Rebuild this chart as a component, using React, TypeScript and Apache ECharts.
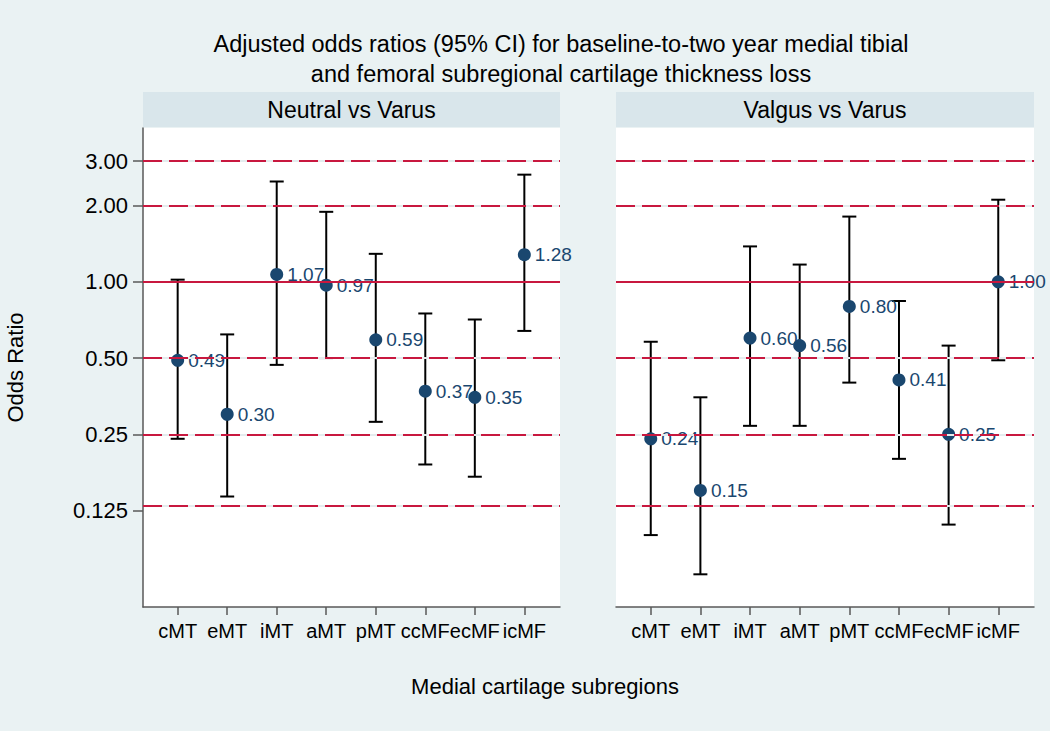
import React, { useEffect, useRef } from "react";
import * as echarts from "echarts";

const categories = ["cMT", "eMT", "iMT", "aMT", "pMT", "ccMF", "ecMF", "icMF"];
const panelTitles = ["Neutral vs Varus", "Valgus vs Varus"];

const neutralOR = [0.49, 0.30, 1.07, 0.97, 0.59, 0.37, 0.35, 1.28];
const neutralLower = [0.24, 0.142, 0.47, 0.50, 0.28, 0.19, 0.17, 0.64];
const neutralUpper = [1.02, 0.62, 2.49, 1.89, 1.29, 0.75, 0.71, 2.65];

const valgusOR = [0.24, 0.15, 0.60, 0.56, 0.80, 0.41, 0.25, 1.00];
const valgusLower = [0.10, 0.070, 0.27, 0.27, 0.40, 0.20, 0.11, 0.49];
const valgusUpper = [0.58, 0.35, 1.38, 1.17, 1.81, 0.84, 0.56, 2.11];

const yTickValues = [0.125, 0.25, 0.5, 1, 2, 3];
const yTickLabels = ["0.125", "0.25", "0.50", "1.00", "2.00", "3.00"];
const dashedRefLines = [0.125, 0.25, 0.5, 2, 3];
const solidRefLine = 1;

const FONT = "Liberation Sans, Arial, Helvetica, sans-serif";
const NAVY = "#1a476f";
const RED = "#c8183f";
const BG = "#eaf2f3";
const HEADER = "#d9e6eb";
const AXIS = "#595959";

const grids = [
  { left: 143, top: 128, width: 417, height: 479 },
  { left: 616, top: 128, width: 418, height: 479 },
];

export default function App() {
  const ref = useRef<HTMLDivElement>(null);
  useEffect(() => {
    if (!ref.current) return;
    const chart = echarts.init(ref.current, null, { renderer: "svg" });
    const xPositions = categories.map((_, i) => i + 1);

    const panels = [
      { or: neutralOR, lo: neutralLower, hi: neutralUpper },
      { or: valgusOR, lo: valgusLower, hi: valgusUpper },
    ];

    const series: any[] = [];
    panels.forEach((p, k) => {
      series.push({
        type: "line",
        xAxisIndex: k,
        yAxisIndex: k,
        data: [],
        silent: true,
        z: 1,
        markLine: {
          silent: true,
          symbol: "none",
          label: { show: false },
          lineStyle: { color: "#e4ecee", type: "solid", width: 2 },
          data: dashedRefLines.map((v) => ({ yAxis: v })),
        },
      });
      series.push({
        type: "line",
        xAxisIndex: k,
        yAxisIndex: k,
        data: [],
        silent: true,
        z: 2,
        markLine: {
          silent: true,
          symbol: "none",
          label: { show: false },
          lineStyle: { color: RED, type: [19, 7], width: 2 },
          data: dashedRefLines.map((v) => ({ yAxis: v })),
        },
      });
      series.push({
        type: "line",
        xAxisIndex: k,
        yAxisIndex: k,
        data: [],
        silent: true,
        z: 2,
        markLine: {
          silent: true,
          symbol: "none",
          label: { show: false },
          lineStyle: { color: RED, type: "solid", width: 2 },
          data: [{ yAxis: solidRefLine }],
        },
      });
      series.push({
        type: "custom",
        xAxisIndex: k,
        yAxisIndex: k,
        z: 3,
        encode: { x: 0, y: [1, 2] },
        data: xPositions.map((x, i) => [x, p.lo[i], p.hi[i]]),
        renderItem: (params: any, api: any) => {
          const x = api.value(0);
          const a = api.coord([x, api.value(1)]);
          const b = api.coord([x, api.value(2)]);
          const w = 7;
          const style = { stroke: "#000", lineWidth: 2 };
          return {
            type: "group",
            children: [
              { type: "line", shape: { x1: a[0], y1: a[1], x2: b[0], y2: b[1] }, style },
              { type: "line", shape: { x1: a[0] - w, y1: a[1], x2: a[0] + w, y2: a[1] }, style },
              { type: "line", shape: { x1: b[0] - w, y1: b[1], x2: b[0] + w, y2: b[1] }, style },
            ],
          };
        },
      });
      series.push({
        type: "scatter",
        xAxisIndex: k,
        yAxisIndex: k,
        z: 4,
        symbol: "circle",
        symbolSize: 13,
        itemStyle: { color: NAVY, opacity: 1 },
        data: xPositions.map((x, i) => [x, p.or[i]]),
        label: {
          show: true,
          position: "right",
          distance: 4,
          color: NAVY,
          fontSize: 19,
          fontFamily: FONT,
          formatter: (d: any) => d.value[1].toFixed(2),
        },
      });
    });

    const xAxisBase = (k: number) => ({
      type: "value",
      gridIndex: k,
      min: 0.3,
      max: 8.72,
      splitLine: { show: false },
      axisLine: { show: true, onZero: false, lineStyle: { color: AXIS, width: 1.5 } },
      axisTick: { show: true, length: 8, lineStyle: { color: AXIS, width: 1.5 }, customValues: xPositions },
      axisLabel: {
        show: true,
        customValues: xPositions,
        color: "#000",
        fontSize: 20,
        fontFamily: FONT,
        margin: 14,
        formatter: (v: number) => categories[Math.round(v) - 1] ?? "",
      },
    });

    const yAxisBase = (k: number) => ({
      type: "log",
      logBase: 2,
      gridIndex: k,
      min: 0.052,
      max: 4.05,
      splitLine: { show: false },
      axisLine: { show: k === 0, lineStyle: { color: AXIS, width: 1.5 } },
      axisTick: { show: k === 0, length: 10, lineStyle: { color: AXIS, width: 1.5 }, customValues: yTickValues },
      axisLabel: {
        show: k === 0,
        customValues: yTickValues,
        color: "#000",
        fontSize: 22,
        fontFamily: FONT,
        margin: 15,
        formatter: (v: number) => {
          const idx = yTickValues.findIndex((t) => Math.abs(t - v) < 1e-6);
          return idx >= 0 ? yTickLabels[idx] : "";
        },
      },
      name: k === 0 ? "Odds Ratio" : "",
      nameLocation: "middle",
      nameGap: 117,
      nameTextStyle: { color: "#000", fontSize: 22, fontFamily: FONT },
    });

    const graphic: any[] = [];
    grids.forEach((g, k) => {
      graphic.push({
        type: "rect",
        shape: { x: g.left, y: 92, width: g.width, height: 35 },
        style: { fill: HEADER },
        silent: true,
      });
      graphic.push({
        type: "rect",
        shape: { x: g.left, y: g.top, width: g.width, height: g.height },
        style: { fill: "#ffffff" },
        silent: true,
        z: -10,
      });
      graphic.push({
        type: "text",
        x: g.left + g.width / 2,
        y: 110,
        style: {
          text: panelTitles[k],
          fill: "#000",
          fontSize: 23,
          fontFamily: FONT,
          align: "center",
          verticalAlign: "middle",
        },
      });
    });
    graphic.push({
      type: "text",
      x: 545,
      y: 686,
      style: {
        text: "Medial cartilage subregions",
        fill: "#000",
        fontSize: 22,
        fontFamily: FONT,
        align: "center",
        verticalAlign: "middle",
      },
    });

    chart.setOption({
      animation: false,
      backgroundColor: BG,
      title: {
        text: "Adjusted odds ratios (95% CI) for baseline-to-two year medial tibial\nand femoral subregional cartilage thickness loss",
        left: 556,
        top: 24,
        textAlign: "center",
        textStyle: { color: "#000", fontSize: 23.5, fontWeight: "normal", fontFamily: FONT, lineHeight: 30 },
      },
      grid: grids.map((g) => ({ ...g, containLabel: false })),
      xAxis: [xAxisBase(0), xAxisBase(1)],
      yAxis: [yAxisBase(0), yAxisBase(1)],
      graphic: { elements: graphic },
      series,
    });
    return () => chart.dispose();
  }, []);
  return (
    <div
      ref={ref}
      style={{ position: "fixed", left: 0, top: 0, width: 1050, height: 731 }}
    />
  );
}
